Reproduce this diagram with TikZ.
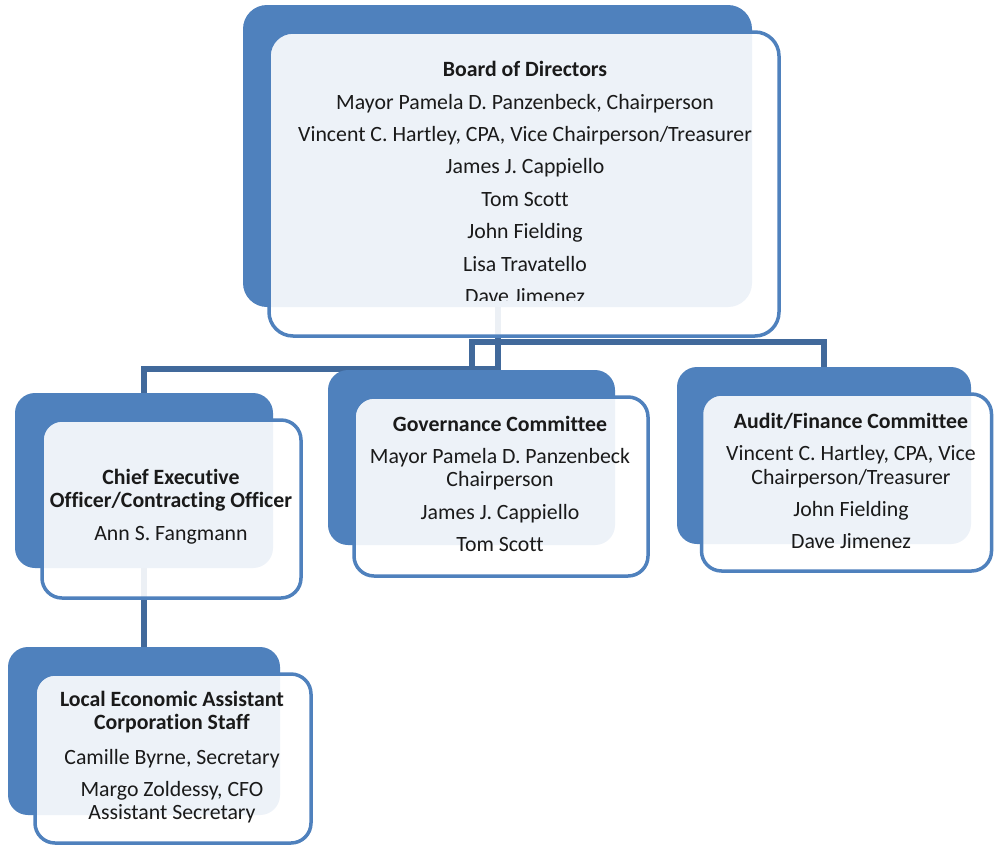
\documentclass[tikz,border=0pt]{standalone}
\usepackage{fontspec}
\setmainfont{Carlito}[Ligatures=NoCommon]
\usetikzlibrary{backgrounds}
\definecolor{bblue}{HTML}{4F81BD}
\definecolor{cblue}{HTML}{41699B}
\definecolor{txtc}{HTML}{1A1A1A}
\tikzset{
  backbox/.style={fill=bblue, draw=none, rounded corners=20pt, inner sep=0pt},
  frontbox/.style={draw=bblue, line width=3.5pt, fill=white, fill opacity=0.9, rounded corners=20pt, inner sep=0pt},
  conn/.style={draw=cblue, line width=6pt},
  txt/.style={align=center, text=txtc, inner sep=0pt, font=\fontsize{21.8}{23.5}\selectfont}
}
\begin{document}
\begin{tikzpicture}[x=1pt,y=-1pt]
\useasboundingbox (0,0) rectangle (995,846);

% Board of Directors
\node[backbox, rounded corners=24pt, minimum width=509pt, minimum height=302pt] (bback) at (497.5,156) {};
\node[frontbox, rounded corners=24pt, minimum width=510pt, minimum height=304pt] (bfront) at (524,184) {};
\begin{scope}
\clip (0,0) rectangle (995,300.5);
\node[txt] (btext) at (525,182.5) {\textbf{Board of Directors}\\[8.9pt]
Mayor Pamela D. Panzenbeck, Chairperson\\[8.9pt]
Vincent C. Hartley, CPA, Vice Chairperson/Treasurer\\[8.9pt]
James J. Cappiello\\[8.9pt]
Tom Scott\\[8.9pt]
John Fielding\\[8.9pt]
Lisa Travatello\\[8.9pt]
Dave Jimenez};
\end{scope}

% CEO
\node[backbox, minimum width=258pt, minimum height=175pt] (cback) at (144,480.5) {};
\node[frontbox, minimum width=259pt, minimum height=178pt] (cfront) at (171.5,509) {};
\node[txt] (ctext) at (171,506.5) {\textbf{Chief Executive}\\
\textbf{Officer/Contracting Officer}\\[9pt]
Ann S. Fangmann};

% Governance
\node[backbox, minimum width=287pt, minimum height=175pt] (gback) at (471.5,457.5) {};
\node[frontbox, minimum width=294pt, minimum height=179pt] (gfront) at (501,486.5) {};
\node[txt] (gtext) at (500,484) {\textbf{Governance Committee}\\[8pt]
Mayor Pamela D. Panzenbeck\\
Chairperson\\[9pt]
James J. Cappiello\\[8.5pt]
Tom Scott};

% Audit
\node[backbox, minimum width=294pt, minimum height=177pt] (aback) at (824,455.5) {};
\node[frontbox, minimum width=290pt, minimum height=177pt] (afront) at (846.5,482.5) {};
\node[txt] (atext) at (851,481) {\textbf{Audit/Finance Committee}\\[8.5pt]
Vincent C. Hartley, CPA, Vice\\
Chairperson/Treasurer\\[8.5pt]
John Fielding\\[8.5pt]
Dave Jimenez};

% LEAC staff
\node[backbox, minimum width=272pt, minimum height=168pt] (lback) at (144,731) {};
\node[frontbox, minimum width=276pt, minimum height=169pt] (lfront) at (173,758.5) {};
\node[txt] (ltext) at (172,757) {\textbf{Local Economic Assistant}\\
\textbf{Corporation Staff}\\[11pt]
Camille Byrne, Secretary\\[8.5pt]
Margo Zoldessy, CFO\\
Assistant Secretary};

% connectors
\coordinate (jc) at (0,369);
\coordinate (jg) at (0,342);
\coordinate (ja) at (0,341.5);
\begin{scope}[on background layer]
\fill[white] (0,0) rectangle (995,846);
\draw[conn] (bback.south) -- (bback.south |- jc) -| (cback.north);
\draw[conn] (bback.south) -- (bback.south |- jg) -| (gback.north);
\draw[conn] (bback.south) -- (bback.south |- ja) -| (aback.north);
\draw[conn] (cback.south) -- (cback.south |- lback.north);
\end{scope}
\end{tikzpicture}
\end{document}
